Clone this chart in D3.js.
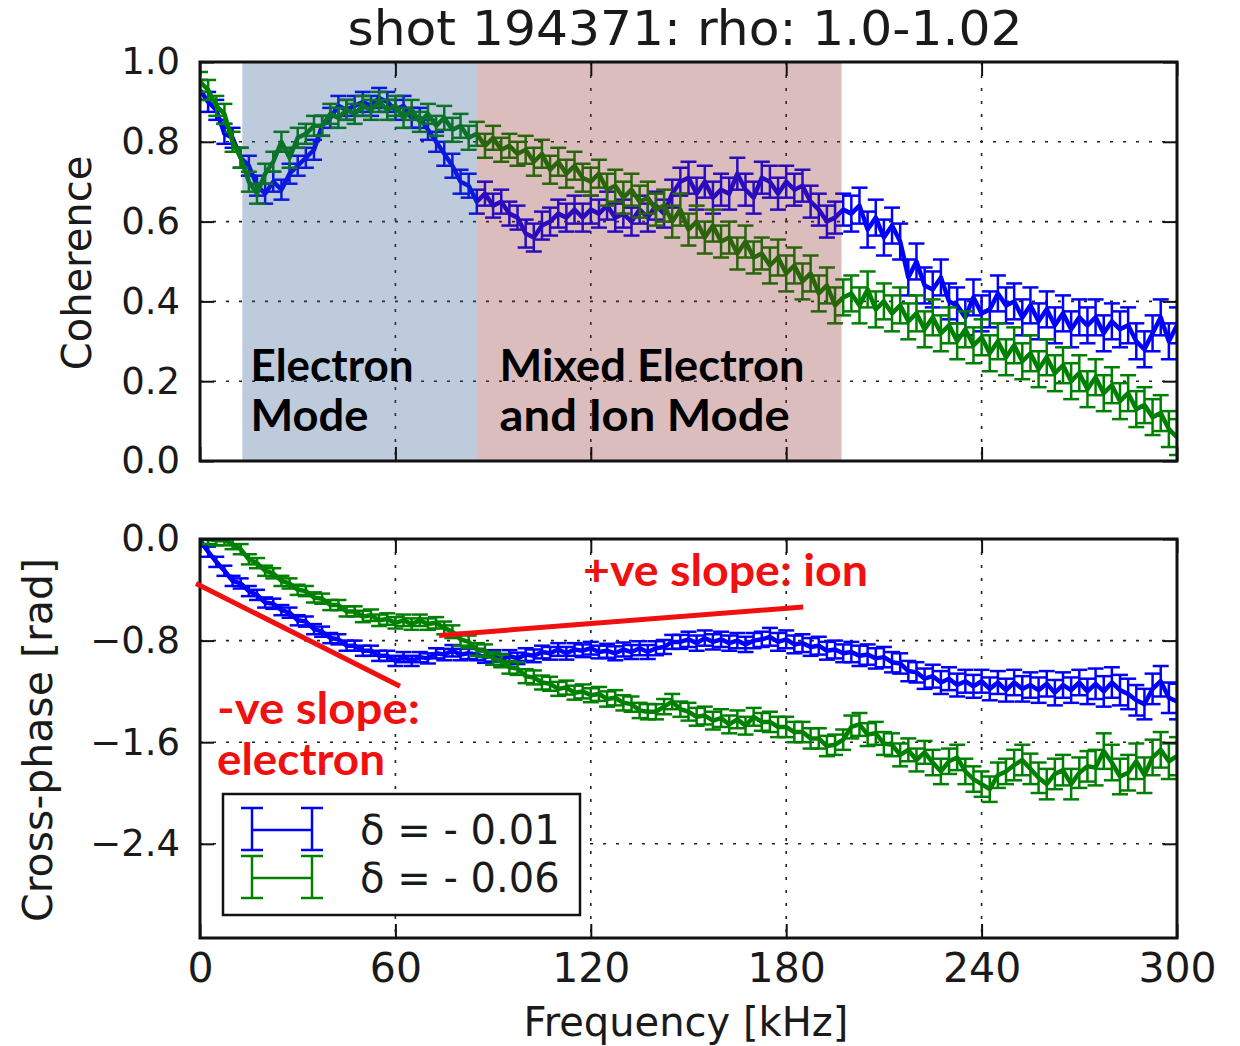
<!DOCTYPE html>
<html>
<head>
<meta charset="utf-8">
<script src="https://cdn.jsdelivr.net/npm/d3@7"></script>
<style>
  html, body { margin: 0; padding: 0; background: #fff; }
  svg { display: block; }
</style>
</head>
<body>
<div id="chart"></div>
<script>
// frequency grid in kHz (one sample every 2.5 kHz, 0..300)
const FREQ_STEP = 2.5;
const freq = d3.range(0, 300 + FREQ_STEP / 2, FREQ_STEP);

// coherence, delta = -0.01 (blue)
const cohBlue = [
  .93, .90, .88, .82, .81, .76, .74, .69, .67, .70,
  .68, .72, .74, .76, .78, .84, .86, .89, .88, .89,
  .90, .89, .91, .90, .88, .89, .86, .86, .83, .80,
  .77, .74, .70, .69, .65, .67, .64, .65, .62, .61,
  .57, .56, .59, .60, .62, .61, .63, .61, .63, .62,
  .64, .61, .62, .60, .63, .61, .64, .62, .67, .70,
  .71, .67, .70, .66, .68, .67, .72, .68, .66, .71,
  .70, .67, .70, .68, .69, .65, .63, .60, .61, .63,
  .62, .64, .58, .61, .56, .59, .55, .46, .50, .44,
  .43, .46, .40, .39, .36, .41, .37, .38, .42, .39,
  .40, .36, .39, .35, .38, .34, .37, .33, .36, .34,
  .36, .32, .35, .33, .34, .30, .28, .32, .36, .30,
  .34
];

// coherence, delta = -0.06 (green)
const cohGreen = [
  .95, .93, .89, .87, .80, .76, .70, .67, .72, .75,
  .80, .76, .81, .82, .84, .84, .87, .86, .88, .87,
  .89, .88, .90, .88, .89, .86, .88, .85, .87, .84,
  .86, .83, .84, .81, .82, .79, .81, .78, .79, .77,
  .78, .75, .77, .73, .75, .72, .74, .71, .70, .72,
  .68, .69, .66, .68, .65, .66, .63, .64, .60, .63,
  .58, .60, .56, .59, .55, .56, .52, .55, .51, .52,
  .49, .51, .47, .49, .45, .47, .42, .44, .39, .41,
  .42, .39, .43, .38, .40, .37, .39, .35, .37, .33,
  .36, .32, .34, .30, .33, .29, .31, .27, .30, .26,
  .29, .25, .27, .23, .26, .22, .24, .20, .22, .18,
  .21, .17, .19, .15, .17, .13, .14, .11, .12, .08,
  .06
];

// cross-phase [rad], delta = -0.01 (blue)
const phaseBlue = [
  -0.01, -0.10, -0.18, -0.25, -0.33, -0.35, -0.41, -0.44, -0.50, -0.51,
  -0.56, -0.58, -0.64, -0.65, -0.71, -0.73, -0.78, -0.79, -0.84, -0.84,
  -0.88, -0.88, -0.92, -0.92, -0.96, -0.93, -0.96, -0.93, -0.94, -0.90,
  -0.91, -0.88, -0.91, -0.90, -0.91, -0.93, -0.92, -0.95, -0.92, -0.94,
  -0.91, -0.92, -0.89, -0.90, -0.87, -0.90, -0.87, -0.88, -0.86, -0.89,
  -0.88, -0.90, -0.87, -0.89, -0.86, -0.89, -0.86, -0.85, -0.81, -0.81,
  -0.79, -0.82, -0.78, -0.81, -0.79, -0.82, -0.80, -0.83, -0.80, -0.79,
  -0.77, -0.81, -0.79, -0.83, -0.82, -0.85, -0.84, -0.88, -0.87, -0.90,
  -0.89, -0.92, -0.91, -0.94, -0.93, -0.97, -0.98, -1.04, -1.05, -1.10,
  -1.08, -1.13, -1.10, -1.15, -1.12, -1.16, -1.12, -1.18, -1.13, -1.19,
  -1.13, -1.18, -1.15, -1.19, -1.14, -1.21, -1.15, -1.19, -1.13, -1.20,
  -1.14, -1.20, -1.13, -1.19, -1.22, -1.27, -1.30, -1.18, -1.12, -1.25,
  -1.28
];

// cross-phase [rad], delta = -0.06 (green)
const phaseGreen = [
  0.00, 0.00, -0.01, -0.01, -0.04, -0.08, -0.16, -0.19, -0.25, -0.27,
  -0.33, -0.35, -0.40, -0.41, -0.46, -0.47, -0.52, -0.52, -0.57, -0.57,
  -0.61, -0.60, -0.64, -0.63, -0.66, -0.64, -0.67, -0.64, -0.67, -0.66,
  -0.70, -0.73, -0.79, -0.81, -0.87, -0.88, -0.94, -0.96, -1.01, -1.02,
  -1.08, -1.09, -1.13, -1.14, -1.18, -1.17, -1.21, -1.20, -1.23, -1.22,
  -1.26, -1.25, -1.29, -1.30, -1.35, -1.36, -1.36, -1.32, -1.28, -1.34,
  -1.36, -1.40, -1.39, -1.43, -1.41, -1.46, -1.42, -1.47, -1.40, -1.44,
  -1.44, -1.48, -1.48, -1.52, -1.52, -1.57, -1.57, -1.63, -1.62, -1.58,
  -1.48, -1.46, -1.54, -1.53, -1.61, -1.62, -1.70, -1.66, -1.74, -1.68,
  -1.76, -1.83, -1.75, -1.72, -1.83, -1.89, -1.93, -1.97, -1.86, -1.83,
  -1.78, -1.74, -1.81, -1.88, -1.93, -1.85, -1.82, -1.93, -1.84, -1.79,
  -1.80, -1.67, -1.76, -1.87, -1.84, -1.75, -1.86, -1.72, -1.66, -1.75,
  -1.71
];

// error half-widths, one value per 25 kHz band
const cohErrBlue    = [0.025, 0.025, 0.025, 0.030, 0.035, 0.035, 0.040, 0.040, 0.045, 0.045, 0.045, 0.045, 0.045];
const cohErrGreen   = [0.025, 0.025, 0.025, 0.030, 0.035, 0.040, 0.040, 0.045, 0.045, 0.045, 0.045, 0.045, 0.045];
const phaseErrBlue  = [0.040, 0.040, 0.040, 0.045, 0.050, 0.055, 0.060, 0.070, 0.080, 0.090, 0.100, 0.120, 0.140];
const phaseErrGreen = [0.040, 0.040, 0.045, 0.050, 0.055, 0.060, 0.070, 0.080, 0.090, 0.100, 0.120, 0.140, 0.150];
const ERR_BAND = 25;

// shaded regions [kHz]
const spans = [
  { from: 13, to: 85, color: "#26528a" },
  { from: 85, to: 197, color: "#8a2626" }
];
const spanLabels = [
  { f: 15.5, lines: ["Electron", "Mode"] },
  { f: 92, lines: ["Mixed Electron", "and Ion Mode"] }
];
const spanLabelWidths = [[163, 118], [305, 290]];

// slope annotations, in (kHz, rad)
const slopeLines = [
  { x1: -1.2, y1: -0.35, x2: 61.4, y2: -1.16 },
  { x1: 73.4, y1: -0.76, x2: 185.2, y2: -0.535 }
];

const xTicks = [0, 60, 120, 180, 240, 300];
const cohTicks = [0, 0.2, 0.4, 0.6, 0.8, 1.0];
const phaseTicks = [0, -0.8, -1.6, -2.4];

const legendItems = [
  { label: "δ = - 0.01", color: "#0000ff" },
  { label: "δ = - 0.06", color: "#008000" }
];

const BLUE = "#0000ff", GREEN = "#008000", RED = "#f01010";
const FONT = "DejaVu Sans, sans-serif";
const ANNO_FONT = "Lato, 'Open Sans', sans-serif";

const W = 1240, H = 1046;
const left = 200, right = 1177;
const top1 = 62, bot1 = 461;
const top2 = 539, bot2 = 938;

const svg = d3.select("#chart").append("svg")
  .attr("width", W).attr("height", H)
  .attr("viewBox", [0, 0, W, H]);

svg.append("rect").attr("width", W).attr("height", H).attr("fill", "#fff");

const x = d3.scaleLinear().domain([0, 300]).range([left, right]);
const yCoh = d3.scaleLinear().domain([0, 1]).range([bot1, top1]);
const yPh = d3.scaleLinear().domain([-Math.PI, 0]).range([bot2, top2]);

function clip(id, y0, y1) {
  svg.append("clipPath").attr("id", id)
    .append("rect").attr("x", left).attr("y", y0).attr("width", right - left).attr("height", y1 - y0);
}
clip("clipTop", top1, bot1);
clip("clipBot", top2, bot2);

function grid(yScale, yTickVals, y0, y1) {
  const g = svg.append("g")
    .attr("stroke", "#222").attr("stroke-width", 1.6)
    .attr("stroke-dasharray", "3,10");
  g.selectAll("line.gx").data(xTicks.filter(t => t > 0 && t < 300)).join("line")
    .attr("x1", d => x(d)).attr("x2", d => x(d)).attr("y1", y0).attr("y2", y1);
  g.selectAll("line.gy").data(yTickVals).join("line")
    .attr("x1", left).attr("x2", right).attr("y1", d => yScale(d)).attr("y2", d => yScale(d));
}

function errorSeries(g, yScale, vals, errs, color) {
  const pts = freq.map((f, i) => ({
    f, v: vals[i], e: errs[Math.min(errs.length - 1, Math.floor(f / ERR_BAND))]
  }));
  const cap = 8;
  const eb = g.append("g").attr("stroke", color).attr("stroke-width", 2.5);
  eb.selectAll("line.bar").data(pts).join("line")
    .attr("x1", d => x(d.f)).attr("x2", d => x(d.f))
    .attr("y1", d => yScale(d.v - d.e)).attr("y2", d => yScale(d.v + d.e));
  eb.selectAll("line.capHi").data(pts).join("line")
    .attr("x1", d => x(d.f) - cap).attr("x2", d => x(d.f) + cap)
    .attr("y1", d => yScale(d.v + d.e)).attr("y2", d => yScale(d.v + d.e));
  eb.selectAll("line.capLo").data(pts).join("line")
    .attr("x1", d => x(d.f) - cap).attr("x2", d => x(d.f) + cap)
    .attr("y1", d => yScale(d.v - d.e)).attr("y2", d => yScale(d.v - d.e));
  g.append("path").datum(pts)
    .attr("fill", "none").attr("stroke", color).attr("stroke-width", 4.5)
    .attr("stroke-linejoin", "round")
    .attr("d", d3.line().x(d => x(d.f)).y(d => yScale(d.v)));
}

function axes(yScale, yTickVals, y0, y1, fmt, showX) {
  const tick = 14;
  const styleAxis = g => {
    g.select(".domain").remove();
    g.selectAll(".tick line").attr("stroke", "#111").attr("stroke-width", 2);
  };
  svg.append("g").attr("transform", `translate(${left},0)`)
    .call(d3.axisLeft(yScale).tickValues(yTickVals).tickSize(-tick).tickPadding(20).tickFormat(fmt))
    .call(styleAxis)
    .call(g => g.selectAll("text").attr("font-family", FONT).attr("font-size", 37).attr("fill", "#1a1a1a"));
  svg.append("g").attr("transform", `translate(${right},0)`)
    .call(d3.axisRight(yScale).tickValues(yTickVals).tickSize(-tick).tickFormat(""))
    .call(styleAxis);
  svg.append("g").attr("transform", `translate(0,${y0})`)
    .call(d3.axisTop(x).tickValues(xTicks).tickSize(-tick).tickFormat(""))
    .call(styleAxis);
  svg.append("g").attr("transform", `translate(0,${y1})`)
    .call(d3.axisBottom(x).tickValues(xTicks).tickSize(-tick).tickPadding(15).tickFormat(showX ? d3.format("d") : ""))
    .call(styleAxis)
    .call(g => g.selectAll("text").attr("font-family", FONT).attr("font-size", 41).attr("fill", "#1a1a1a"));
  svg.append("rect").attr("x", left).attr("y", y0).attr("width", right - left).attr("height", y1 - y0)
    .attr("fill", "none").attr("stroke", "#111").attr("stroke-width", 3);
}

// ---------- top panel: coherence ----------
grid(yCoh, cohTicks.filter(t => t > 0 && t < 1), top1, bot1);
const gTop = svg.append("g").attr("clip-path", "url(#clipTop)");
errorSeries(gTop, yCoh, cohBlue, cohErrBlue, BLUE);
errorSeries(gTop, yCoh, cohGreen, cohErrGreen, GREEN);
gTop.selectAll("rect.span").data(spans).join("rect")
  .attr("x", d => x(d.from)).attr("width", d => x(d.to) - x(d.from))
  .attr("y", top1).attr("height", bot1 - top1)
  .attr("fill", d => d.color).attr("fill-opacity", 0.3);
axes(yCoh, cohTicks, top1, bot1, d3.format(".1f"), false);

spanLabels.forEach((s, k) => {
  s.lines.forEach((ln, i) => {
    svg.append("text").attr("font-family", ANNO_FONT).attr("font-weight", 700)
      .attr("font-size", 43).attr("fill", "#000")
      .attr("x", x(s.f)).attr("y", 381 + i * 50)
      .attr("textLength", spanLabelWidths[k][i]).attr("lengthAdjust", "spacingAndGlyphs")
      .text(ln);
  });
});

// ---------- bottom panel: cross-phase ----------
grid(yPh, phaseTicks.filter(t => t < 0), top2, bot2);
const gBot = svg.append("g").attr("clip-path", "url(#clipBot)");
errorSeries(gBot, yPh, phaseBlue, phaseErrBlue, BLUE);
errorSeries(gBot, yPh, phaseGreen, phaseErrGreen, GREEN);
axes(yPh, phaseTicks, top2, bot2, d3.format(".1f"), true);

// slope annotations
svg.append("g").attr("stroke", RED).attr("stroke-width", 5)
  .selectAll("line").data(slopeLines).join("line")
  .attr("x1", d => x(d.x1)).attr("y1", d => yPh(d.y1))
  .attr("x2", d => x(d.x2)).attr("y2", d => yPh(d.y2));

const red = svg.append("g").attr("font-family", ANNO_FONT).attr("font-weight", 700)
  .attr("font-size", 43).attr("fill", RED);
red.append("text").attr("x", 583).attr("y", 586).attr("textLength", 285)
  .attr("lengthAdjust", "spacingAndGlyphs").text("+ve slope: ion");
red.append("text").attr("x", 217).attr("y", 724).attr("textLength", 203)
  .attr("lengthAdjust", "spacingAndGlyphs").text("-ve slope:");
red.append("text").attr("x", 217).attr("y", 775).attr("textLength", 168)
  .attr("lengthAdjust", "spacingAndGlyphs").text("electron");

// legend
const lg = svg.append("g");
lg.append("rect").attr("x", 223).attr("y", 794).attr("width", 357).attr("height", 121)
  .attr("fill", "#fff").attr("stroke", "#111").attr("stroke-width", 2.5);
legendItems.forEach((d, i) => {
  const cy = 830 + i * 48;
  const g = lg.append("g").attr("stroke", d.color).attr("stroke-width", 2.5);
  [252, 312].forEach(px => {
    g.append("line").attr("x1", px).attr("x2", px).attr("y1", cy - 22).attr("y2", cy + 20);
    g.append("line").attr("x1", px - 11).attr("x2", px + 11).attr("y1", cy - 22).attr("y2", cy - 22);
    g.append("line").attr("x1", px - 11).attr("x2", px + 11).attr("y1", cy + 20).attr("y2", cy + 20);
  });
  g.append("line").attr("x1", 252).attr("x2", 312).attr("y1", cy).attr("y2", cy);
  lg.append("text").attr("x", 360).attr("y", cy + 14)
    .attr("font-family", FONT).attr("font-size", 40).attr("fill", "#1a1a1a").text(d.label);
});

// titles and axis labels
svg.append("text").attr("x", 685).attr("y", 45).attr("text-anchor", "middle")
  .attr("font-family", FONT).attr("font-size", 48).attr("fill", "#1a1a1a")
  .attr("textLength", 675).attr("lengthAdjust", "spacingAndGlyphs")
  .text("shot 194371: rho: 1.0-1.02");
svg.append("text").attr("transform", "translate(91,263) rotate(-90)").attr("text-anchor", "middle")
  .attr("font-family", FONT).attr("font-size", 40).attr("fill", "#1a1a1a").text("Coherence");
svg.append("text").attr("transform", "translate(52,740) rotate(-90)").attr("text-anchor", "middle")
  .attr("font-family", FONT).attr("font-size", 41).attr("fill", "#1a1a1a").text("Cross-phase [rad]");
svg.append("text").attr("x", 686).attr("y", 1036).attr("text-anchor", "middle")
  .attr("font-family", FONT).attr("font-size", 40).attr("fill", "#1a1a1a").text("Frequency [kHz]");
</script>
</body>
</html>
